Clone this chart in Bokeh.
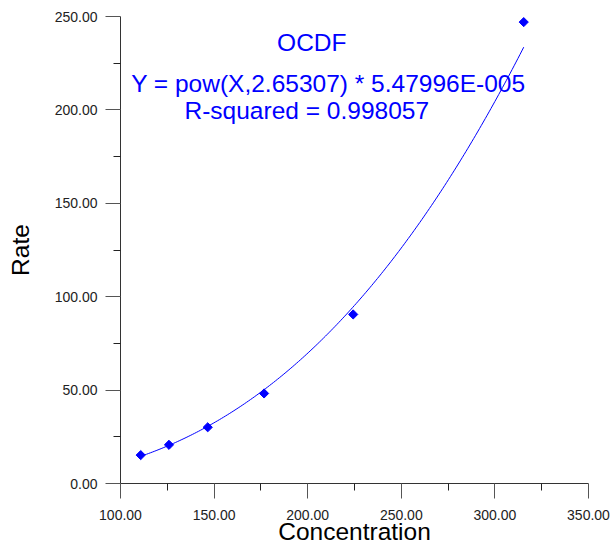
import numpy as np
from bokeh.plotting import figure
from bokeh.models import Range1d, Label, PrintfTickFormatter, FixedTicker
from bokeh.embed import file_html
from bokeh.resources import INLINE

# Data
concentration = [110.8, 125.9, 146.6, 176.7, 224.3, 315.4]
rate = [15.2, 20.7, 30.1, 48.2, 90.5, 247.0]

# Fitted power law shown on the chart: Y = X^b * a
fit_exponent = 2.65307
fit_coeff = 5.47996e-005
r_squared = 0.998057
series_name = "OCDF"

x_ticks = [100, 150, 200, 250, 300, 350]
y_ticks = [0, 50, 100, 150, 200, 250]

FONT = "Liberation Sans"
BLUE = "#0000FF"

p = figure(width=610, height=548, output_backend="svg", toolbar_location=None,
           x_range=Range1d(100, 350), y_range=Range1d(0, 250),
           min_border_left=120, min_border_right=22, min_border_top=16,
           min_border_bottom=65)
p.outline_line_color = None
p.xgrid.visible = False
p.ygrid.visible = False
p.background_fill_color = "white"
p.border_fill_color = "white"

for ax, ticks in ((p.xaxis[0], x_ticks), (p.yaxis[0], y_ticks)):
    ax.ticker = FixedTicker(ticks=ticks,
                            minor_ticks=[t + 25 for t in ticks[:-1]])
    ax.formatter = PrintfTickFormatter(format="%.2f")
    ax.major_tick_out = 15
    ax.major_tick_in = 0
    ax.minor_tick_out = 7
    ax.minor_tick_in = 0
    ax.axis_line_color = "#333333"
    ax.major_tick_line_color = "#555555"
    ax.minor_tick_line_color = "#222222"
    ax.major_label_text_font = FONT
    ax.major_label_text_font_size = "14px"
    ax.major_label_text_color = "#222222"
    ax.axis_label_text_font = FONT
    ax.axis_label_text_font_size = "24.5px"
    ax.axis_label_text_font_style = "normal"
    ax.axis_label_text_color = "black"

p.xaxis.axis_label = "Concentration"
p.yaxis.axis_label = "Rate"
p.xaxis.major_label_standoff = 11
p.xaxis.axis_label_standoff = -5
p.yaxis.major_label_standoff = 8
p.yaxis.axis_label_standoff = 18

# Fitted curve
xs = np.linspace(min(concentration), max(concentration), 200)
ys = np.power(xs, fit_exponent) * fit_coeff
p.line(xs, ys, line_color=BLUE, line_width=1)

# Data points
p.scatter(concentration, rate, marker="square", angle=np.pi / 4,
          size=6.5, fill_color=BLUE, line_color=BLUE)

texts = [
    (series_name, 202.2, 236),
    (f"Y = pow(X,{fit_exponent}) * {fit_coeff:.5E}".replace("E-05", "E-005"), 211, 214),
    (f"R-squared = {r_squared}", 199.5, 199.7),
]
for t, x, y in texts:
    p.add_layout(Label(x=x, y=y, text=t, text_align="center",
                       text_baseline="middle", text_font=FONT,
                       text_font_size="24.5px", text_color=BLUE))

open("out.html", "w").write(file_html(p, INLINE))
